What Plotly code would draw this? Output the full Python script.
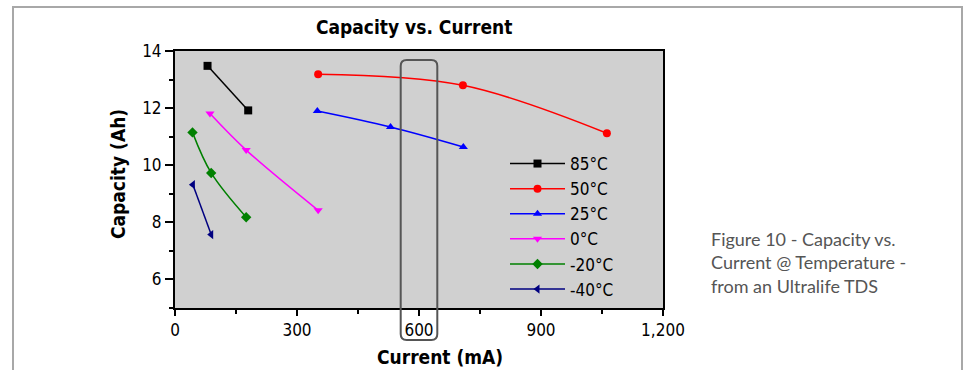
import plotly.graph_objects as go

# ---- data ----
names = ["85°C", "50°C", "25°C", "0°C", "-20°C", "-40°C"]
current_85 = [80, 180]
capacity_85 = [13.48, 11.92]
current_50 = [352, 708, 1062]
capacity_50 = [13.19, 12.80, 11.12]
current_25 = [350, 530, 709]
capacity_25 = [11.90, 11.34, 10.64]
current_0 = [86, 175, 352]
capacity_0 = [11.81, 10.53, 8.42]
current_m20 = [43, 89, 175]
capacity_m20 = [11.15, 9.73, 8.18]
current_m40 = [44, 89]
capacity_m40 = [9.32, 7.57]

x_tickvals = [0, 300, 600, 900, 1200]
x_ticktext = ["0", "300", "600", "900", "1,200"]
y_tickvals = [6, 8, 10, 12, 14]
y_ticktext = ["6", "8", "10", "12", "14"]

highlight_range = [555, 645]  # mA region boxed around 600 mA

colors = ["#000000", "#ff0000", "#0000ff", "#ff00ff", "#008000", "#000080"]
symbols = ["square", "circle", "triangle-up", "triangle-down", "diamond", "triangle-left"]
xs = [current_85, current_50, current_25, current_0, current_m20, current_m40]
ys = [capacity_85, capacity_50, capacity_25, capacity_0, capacity_m20, capacity_m40]

# ---- layout constants (pixels) ----
W, H = 966, 370
L, R, T, B = 175, 303, 51, 62
PW, PH = W - L - R, H - T - B
XMIN, XMAX, YMIN, YMAX = 0, 1200, 5, 14

def px(xp):
    return (xp - L) / PW

def py(yp):
    return (H - B - yp) / PH

NARROW = "DejaVu Sans Condensed, sans-serif"

fig = go.Figure()
for n, x, y, c, s in zip(names, xs, ys, colors, symbols):
    fig.add_trace(go.Scatter(
        x=x, y=y, name=n, mode="lines+markers",
        line=dict(color=c, width=1.5, shape="spline"),
        marker=dict(symbol=s, size=8, color=c),
    ))

axis_common = dict(
    showgrid=False, zeroline=False, showline=True, linecolor="black", linewidth=2,
    mirror=True, ticks="outside", tickcolor="black", tickwidth=2,
    tickfont=dict(family=NARROW, size=17, color="black"),
)

fig.update_xaxes(range=[XMIN, XMAX], tickvals=x_tickvals, ticktext=x_ticktext, ticklen=6,
                 minor=dict(ticks="outside", dtick=150, ticklen=4, tickwidth=2, tickcolor="black"),
                 **axis_common)
fig.update_yaxes(range=[YMIN, YMAX], tickvals=y_tickvals, ticktext=y_ticktext, ticklen=8,
                 minor=dict(ticks="outside", dtick=1, ticklen=4, tickwidth=2, tickcolor="black"),
                 **axis_common)

# rounded highlight box around 600 mA
x0 = (highlight_range[0] - XMIN) / (XMAX - XMIN)
x1 = (highlight_range[1] - XMIN) / (XMAX - XMIN)
y0, y1 = py(340), py(60)
rx, ry = 6 / PW, 6 / PH
path = (f"M{x0+rx},{y1} L{x1-rx},{y1} Q{x1},{y1} {x1},{y1-ry} "
        f"L{x1},{y0+ry} Q{x1},{y0} {x1-rx},{y0} L{x0+rx},{y0} "
        f"Q{x0},{y0} {x0},{y0+ry} L{x0},{y1-ry} Q{x0},{y1} {x0+rx},{y1} Z")

fig.update_layout(
    width=W, height=H,
    margin=dict(l=L, r=R, t=T, b=B, autoexpand=False),
    paper_bgcolor="white", plot_bgcolor="#d0d0d0",
    showlegend=True,
    legend=dict(x=px(505), y=py(146), xanchor="left", yanchor="top",
                bgcolor="rgba(0,0,0,0)", itemwidth=55, tracegroupgap=0,
                font=dict(family=NARROW, size=17, color="black")),
    shapes=[
        dict(type="path", xref="paper", yref="paper", path=path,
             line=dict(color="#555555", width=2), layer="above"),
        dict(type="rect", xref="paper", yref="paper",
             x0=px(13), x1=px(962), y0=py(400), y1=py(7),
             line=dict(color="#a8a8a8", width=2), layer="below"),
    ],
    annotations=[
        dict(text="<b>Capacity vs. Current</b>", xref="paper", yref="paper",
             x=px(414), y=py(27), showarrow=False, xanchor="center", yanchor="middle",
             font=dict(family=NARROW, size=19, color="black")),
        dict(text="<b>Current (mA)</b>", xref="paper", yref="paper",
             x=px(440), y=py(357), showarrow=False, xanchor="center", yanchor="middle",
             font=dict(family=NARROW, size=19, color="black")),
        dict(text="<b>Capacity (Ah)</b>", xref="paper", yref="paper", textangle=-90,
             x=px(118), y=py(174), showarrow=False, xanchor="center", yanchor="middle",
             font=dict(family=NARROW, size=19, color="black")),
        dict(text="Figure 10 - Capacity vs.<br>Current @ Temperature -<br>from an Ultralife TDS",
             xref="paper", yref="paper", x=px(709), y=py(262), showarrow=False,
             xanchor="left", yanchor="middle", align="left",
             font=dict(family="Lato, Open Sans, sans-serif", size=18, color="#555555")),
    ],
)

fig.write_html("out.html", config={"displayModeBar": False},
               post_script="document.body.style.margin='0';")
